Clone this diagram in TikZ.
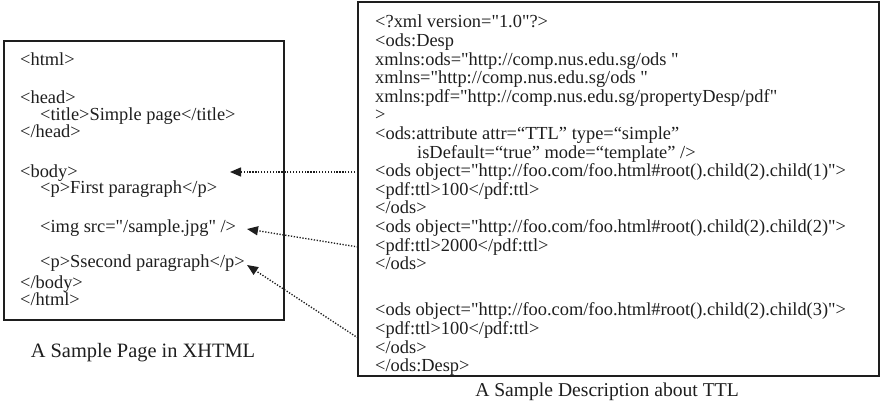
\documentclass[tikz,border=0pt]{standalone}
\usepackage{fontspec}
\setmainfont{Liberation Serif}[Ligatures=TeXOff]
\usetikzlibrary{arrows.meta}
\definecolor{ink}{HTML}{1E1E1E}
\tikzset{
  code/.style={anchor=base west, inner sep=0pt, font=\fontsize{18.4}{18.6}\selectfont, text=ink},
  caption/.style={anchor=base, inner sep=0pt, font=\fontsize{20}{22}\selectfont, text=ink},
  frame/.style={draw=ink, line width=1.4pt},
  link/.style={draw=ink, line width=1.35pt, dash pattern=on 1.3pt off 1.6pt,
    -{Triangle[length=11pt,width=9pt]}, shorten >=0pt}
}
\begin{document}
\begin{tikzpicture}[x=1pt, y=-1pt]
  \useasboundingbox (0,0) rectangle (881,403);

  % frames
  \draw[frame] (4,41) rectangle (284,320);
  \draw[frame] (358,2) rectangle (879,376);

  % XHTML page
  \node[code] (l1) at (20,66) {<html>};
  \node[code] (l2) at (20,104) {<head>};
  \node[code] (l3) at (40,121) {<title>Simple page</title>};
  \node[code] (l4) at (20,138) {</head>};
  \node[code] (l5) at (20,178) {<body>};
  \node[code] (l6) at (40,194) {<p>First paragraph</p>};
  \node[code] (l7) at (40,233) {<img src="/sample.jpg" />};
  \node[code] (l8) at (40,267.5) {<p>Ssecond paragraph</p>};
  \node[code] (l9) at (20,288.5) {</body>};
  \node[code] (l10) at (20,306) {</html>};
  \node[caption, font=\fontsize{20.4}{22}\selectfont] (cap1) at (143,358) {A Sample Page in XHTML};

  % TTL description
  \node[code] (r1) at (375,28) {<?xml version="1.0"?>};
  \node[code] (r2) at (375,46.6) {<ods:Desp};
  \node[code] (r3) at (375,65.2) {xmlns:ods="http://comp.nus.edu.sg/ods "};
  \node[code] (r4) at (375,83.8) {xmlns="http://comp.nus.edu.sg/ods "};
  \node[code] (r5) at (375,102.4) {xmlns:pdf="http://comp.nus.edu.sg/propertyDesp/pdf"};
  \node[code] (r6) at (375,121) {>};
  \node[code] (r7) at (375,139.6) {<ods:attribute attr=“TTL” type=“simple”};
  \node[code] (r8) at (417,158.2) {isDefault=“true” mode=“template” />};
  \node[code] (r9) at (375,176.8) {<ods object="http://foo.com/foo.html\#root().child(2).child(1)">};
  \node[code] (r10) at (375,195.4) {<pdf:ttl>100</pdf:ttl>};
  \node[code] (r11) at (375,214) {</ods>};
  \node[code] (r12) at (375,232.6) {<ods object="http://foo.com/foo.html\#root().child(2).child(2)">};
  \node[code] (r13) at (375,251.2) {<pdf:ttl>2000</pdf:ttl>};
  \node[code] (r14) at (375,269.8) {</ods>};
  \node[code] (r15) at (375,316) {<ods object="http://foo.com/foo.html\#root().child(2).child(3)">};
  \node[code] (r16) at (375,334.6) {<pdf:ttl>100</pdf:ttl>};
  \node[code] (r17) at (375,353.2) {</ods>};
  \node[code] (r18) at (375,371.8) {</ods:Desp>};
  \node[caption, font=\fontsize{19.6}{22}\selectfont] (cap2) at (607,396) {A Sample Description about TTL};

  % links from descriptions to page elements
  \coordinate (s1) at (358,172);
  \coordinate (s2) at (358,247);
  \coordinate (s3) at (358,338);
  \coordinate (t1) at (230,172);
  \coordinate (t2) at (247,229);
  \coordinate (t3) at (247,265);
  \draw[link] (s1) -- (t1);
  \draw[link] (s2) -- (t2);
  \draw[link] (s3) -- (t3);
\end{tikzpicture}
\end{document}
